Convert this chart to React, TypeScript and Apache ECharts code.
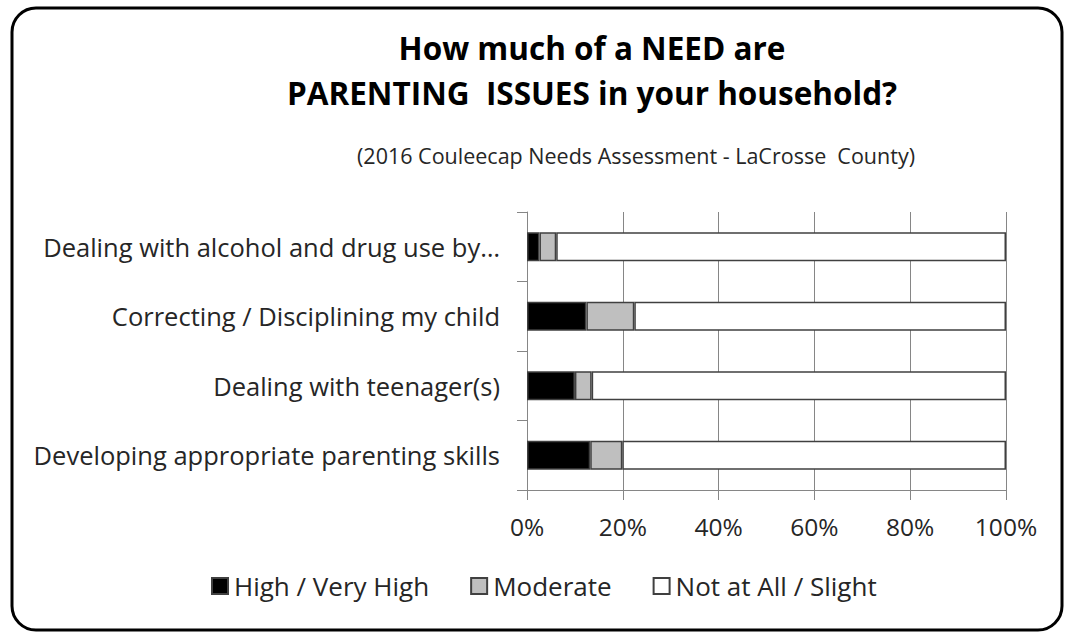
import React, { useEffect, useRef } from "react";
import * as echarts from "echarts";

const categories = [
  "Dealing with alcohol and drug use by…",
  "Correcting / Disciplining my child",
  "Dealing with teenager(s)",
  "Developing appropriate parenting skills",
];
const highVeryHigh = [2.6, 12.4, 10.0, 13.2];
const moderate = [3.5, 10.0, 3.5, 6.7];
const notAtAll = [93.9, 77.6, 86.5, 80.1];
const seriesNames = ["High / Very High", "Moderate", "Not at All / Slight"];
const xTicks = [0, 20, 40, 60, 80, 100];

const FONT = "Open Sans";

export default function App() {
  const ref = useRef<HTMLDivElement>(null);
  useEffect(() => {
    const chart = echarts.init(ref.current!, null, { renderer: "svg" });
    const colors = ["#000000", "#bfbfbf", "#ffffff"];
    const data = [highVeryHigh, moderate, notAtAll];
    chart.setOption({
      animation: false,
      backgroundColor: "#ffffff",
      textStyle: { fontFamily: FONT },
      title: [
        {
          text: "How much of a NEED are\nPARENTING  ISSUES in your household?",
          left: 587,
          textAlign: "center",
          top: 20,
          textStyle: {
            fontFamily: FONT,
            fontSize: 31.5,
            fontWeight: "bold",
            color: "#000000",
            lineHeight: 45,
          },
        },
        {
          text: "(2016 Couleecap Needs Assessment - LaCrosse  County)",
          left: 631,
          textAlign: "center",
          top: 138,
          textStyle: {
            fontFamily: FONT,
            fontSize: 21.5,
            fontWeight: "normal",
            color: "#262626",
            lineHeight: 24,
          },
        },
      ],
      legend: {
        bottom: 29,
        left: 206,
        itemWidth: 16,
        itemHeight: 16,
        itemGap: 41,
        icon: "rect",
        selectedMode: false,
        data: seriesNames.map((n) => ({ name: n })),
        textStyle: { fontFamily: FONT, fontSize: 26, color: "#262626", padding: [0, 0, 0, 1] },
      },
      grid: { left: 527, right: 62, top: 212, height: 278, containLabel: false },
      xAxis: {
        type: "value",
        min: xTicks[0],
        max: xTicks[xTicks.length - 1],
        interval: 20,
        axisLine: { show: true, lineStyle: { color: "#868686" } },
        axisTick: { show: true, length: 10, lineStyle: { color: "#868686" } },
        splitLine: { show: true, lineStyle: { color: "#868686" } },
        axisLabel: {
          formatter: "{value}%",
          fontFamily: FONT,
          fontSize: 24.5,
          color: "#262626",
          margin: 24,
        },
      },
      yAxis: {
        type: "category",
        data: categories,
        inverse: true,
        axisLine: { show: true, lineStyle: { color: "#868686" } },
        axisTick: { show: true, length: 10, lineStyle: { color: "#868686" } },
        axisLabel: { fontFamily: FONT, fontSize: 25.5, color: "#262626", margin: 27 },
      },
      series: seriesNames.map((name, i) => ({
        name,
        type: "bar",
        stack: "total",
        barWidth: "42%",
        data: data[i],
        itemStyle: { color: colors[i], borderColor: "#404040", borderWidth: 1.5 },
      })),
      graphic: [
        {
          type: "rect",
          shape: { x: 12, y: 8, width: 1050, height: 622, r: 24 },
          style: { fill: "none", stroke: "#000000", lineWidth: 3 },
          silent: true,
          z: 100,
        },
      ],
    });
    return () => chart.dispose();
  }, []);
  return (
    <div
      ref={ref}
      style={{ position: "fixed", left: 0, top: 0, width: 1068, height: 633 }}
    />
  );
}
